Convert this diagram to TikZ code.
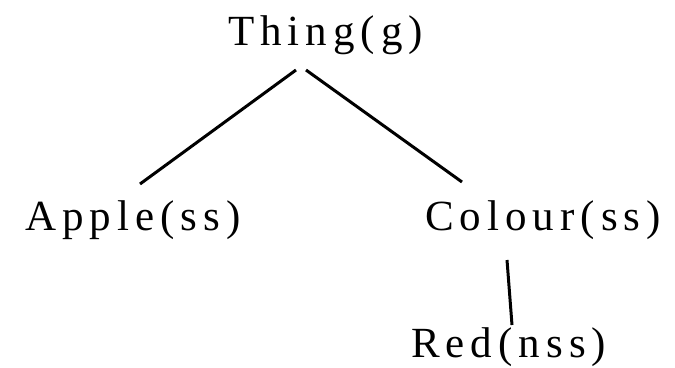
\documentclass[tikz,border=0pt]{standalone}
\usepackage{fontspec}
\setmainfont{Liberation Serif}
\newfontfamily\spaced[LetterSpace=14]{Liberation Serif}
\begin{document}
\begin{tikzpicture}[x=1pt,y=-1pt,
  label/.style={anchor=base west,inner sep=0pt,font=\spaced\fontsize{43}{48}\selectfont},
  edge/.style={line width=3pt}]
\useasboundingbox (0,0) rectangle (675,367);
% tree nodes
\node[label] (thing)  at (228,45)  {Thing(g)};
\node[label] (apple)  at (25,230)  {Apple(ss)};
\node[label] (colour) at (425,230) {Colour(ss)};
\node[label] (red)    at (411,357) {Red(nss)};
% edge end points
\coordinate (tl) at (296,70);
\coordinate (al) at (140,184);
\coordinate (tr) at (306,70);
\coordinate (cl) at (462,182);
\coordinate (cb) at (507,260);
\coordinate (rt) at (512,325);
\draw[edge] (tl) -- (al);
\draw[edge] (tr) -- (cl);
\draw[edge] (cb) -- (rt);
\end{tikzpicture}
\end{document}
